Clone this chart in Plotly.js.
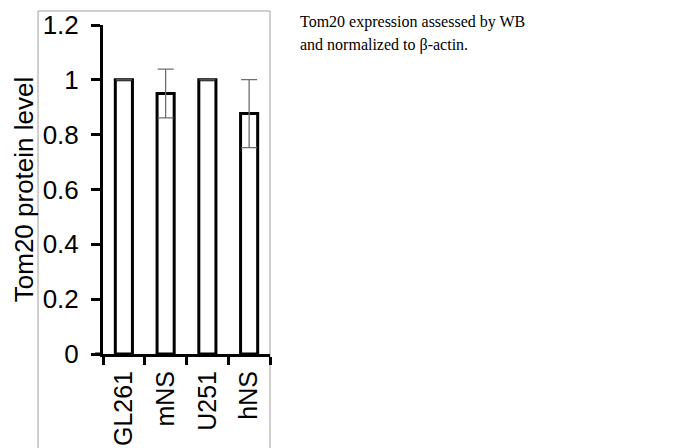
<!DOCTYPE html>
<html>
<head>
<meta charset="utf-8">
<script src="https://cdn.plot.ly/plotly-3.0.1.min.js"></script>
<style>html,body{margin:0;padding:0;background:#fff;}#chart{width:675px;height:448px;}</style>
</head>
<body>
<div id="chart"></div>
<script>
const categories = ["GL261", "mNS", "U251", "hNS"];
const tom20Level = [1.0, 0.95, 1.0, 0.877];
const tom20Error = [0, 0.089, 0, 0.124];
const yTickValues = [0, 0.2, 0.4, 0.6, 0.8, 1, 1.2];
const yTickLabels = ["0", "0.2", "0.4", "0.6", "0.8", "1", "1.2"];
const noteLines = ["Tom20 expression assessed by WB", "and normalized to \u03b2-actin."];

const trace = {
  type: "bar",
  x: categories,
  y: tom20Level,
  width: 0.41,
  marker: {color: "#ffffff", line: {color: "#000000", width: 3}},
  error_y: {type: "data", array: tom20Error, visible: true, color: "#6e6e6e", thickness: 1.3, width: 8},
  hoverinfo: "none"
};

const layout = {
  width: 675,
  height: 448,
  margin: {l: 103, r: 405, t: 25, b: 94, pad: 0},
  paper_bgcolor: "#ffffff",
  plot_bgcolor: "#ffffff",
  showlegend: false,
  font: {family: "Liberation Sans, Arial, sans-serif", color: "#000000"},
  xaxis: {
    type: "category",
    showline: true, linecolor: "#000000", linewidth: 3,
    ticks: "outside", tickson: "boundaries", ticklen: 8, tickwidth: 3, tickcolor: "#000000",
    tickangle: -90,
    tickfont: {family: "Liberation Sans, Arial, sans-serif", size: 25, color: "#000000"},
    ticklabelstandoff: 4,
    showgrid: false, zeroline: false, fixedrange: true
  },
  yaxis: {
    range: [0, 1.2],
    tickvals: yTickValues, ticktext: yTickLabels,
    showline: true, linecolor: "#000000", linewidth: 3,
    ticks: "outside", ticklen: 9, tickwidth: 3, tickcolor: "#000000",
    tickfont: {family: "Liberation Sans, Arial, sans-serif", size: 26, color: "#000000"},
    ticklabelstandoff: 7,
    showgrid: false, zeroline: false, fixedrange: true,
    title: {text: "Tom20 protein level", standoff: 2, font: {family: "Liberation Sans, Arial, sans-serif", size: 26, color: "#000000"}}
  },
  shapes: [
    {type: "rect", xref: "paper", yref: "paper", x0: -0.389, x1: 1.0, y0: -0.4, y1: 1.0426,
     line: {color: "#a0a0a0", width: 1}, fillcolor: "rgba(0,0,0,0)", layer: "below"},
    {type: "line", xref: "paper", yref: "y", x0: -0.048, x1: 0, y0: 0, y1: 0,
     line: {color: "#000000", width: 3}, layer: "above"}
  ],
  annotations: [
    {xref: "paper", yref: "paper", x: 1.1677, y: 1.009, xanchor: "left", yanchor: "middle", showarrow: false,
     text: noteLines[0], font: {family: "Liberation Serif, Times New Roman, serif", size: 16, color: "#000000"}},
    {xref: "paper", yref: "paper", x: 1.1677, y: 0.939, xanchor: "left", yanchor: "middle", showarrow: false,
     text: noteLines[1], font: {family: "Liberation Serif, Times New Roman, serif", size: 16, color: "#000000"}}
  ]
};

Plotly.newPlot("chart", [trace], layout, {displayModeBar: false, staticPlot: true});
</script>
</body>
</html>
